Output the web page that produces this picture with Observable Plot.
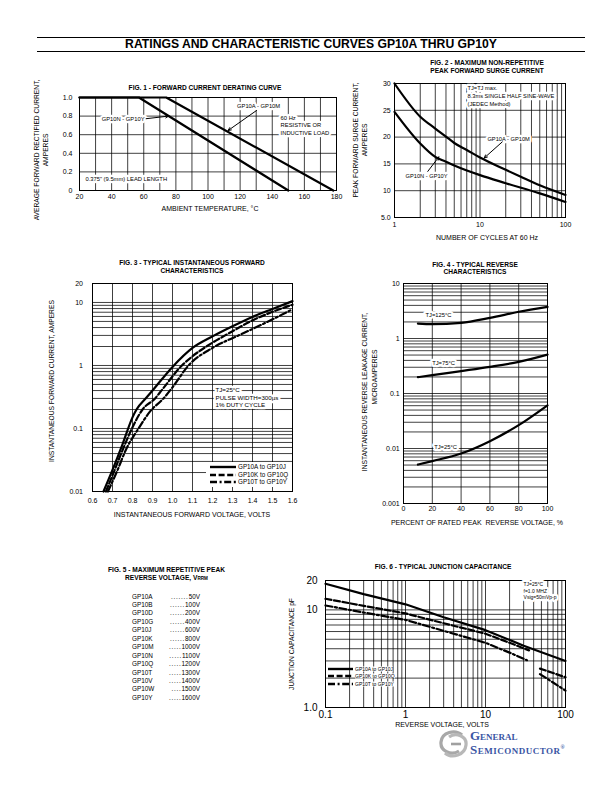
<!DOCTYPE html>
<html><head><meta charset="utf-8">
<script src="https://cdn.jsdelivr.net/npm/d3@7"></script>
<script src="https://cdn.jsdelivr.net/npm/@observablehq/plot@0.6"></script>
<style>
html,body{margin:0;padding:0;background:#fff;}
#page{position:relative;width:612px;height:792px;overflow:hidden;background:#fff;font-family:'Liberation Sans',Arial,Helvetica,sans-serif;color:#000;}
.t{position:absolute;white-space:nowrap;line-height:1;}
</style></head><body><div id="page"></div>
<script>
const FONT = "'Liberation Sans', Arial, Helvetica, sans-serif";

// ================= DATA =================
// Fig.1 Forward current derating
const f1XTicks = [20, 40, 60, 80, 100, 120, 140, 160, 180];
const f1YTicks = [0, 0.2, 0.4, 0.6, 0.8, 1.0];
const f1XGrid = [20, 30, 40, 50, 60, 70, 80, 90, 100, 110, 120, 130, 140, 150, 160, 170, 180];
const f1GP10A_M = [[20, 1.0], [74, 1.0], [178, 0]];
const f1GP10N_Y = [[20, 1.0], [57, 1.0], [150, 0]];
const f1Notes = [
  {x: 131.5, y: 0.914, t: "GP10A - GP10M", a: "middle"},
  {x: 145.2, y: 0.704, t: "60 Hz\nRESISTIVE OR\nINDUCTIVE LOAD", a: "start"},
  {x: 60.5, y: 0.774, t: "GP10N - GP10Y", a: "end"},
  {x: 23.7, y: 0.129, t: "0.375\" (9.5mm) LEAD LENGTH", a: "start"}
];
const f1Arrows = [
  {x1: 130.2, y1: 0.86, x2: 112.5, y2: 0.645},
  {x1: 61.5, y1: 0.772, x2: 75.5, y2: 0.80}
];

// Fig.2 Surge current
const f2XTicks = [1, 10, 100];
const f2YTicks = [5, 10, 15, 20, 25, 30];
const f2XGrid = [1,2,3,4,5,6,7,8,9,10,20,30,40,50,60,70,80,90,100];
const f2CyclesA = [1, 2, 3, 4, 5, 7, 10, 20, 30, 50, 100];
const f2SurgeA  = [30, 23.8, 21.6, 20.1, 18.9, 17.6, 16.2, 13.9, 12.6, 11.0, 9.2];
const f2CyclesN = [1, 2, 3, 4, 5, 10, 20, 50, 100];
const f2SurgeN  = [24.7, 18.8, 16.3, 15.4, 14.7, 12.9, 11.4, 9.5, 7.9];
const f2Notes = [
  {x: 7.14, y: 27.76, t: "TJ=TJ max.\n8.3ms SINGLE HALF SINE-WAVE\n(JEDEC Method)", a: "start"},
  {x: 21.6, y: 19.74, t: "GP10A - GP10M", a: "middle"},
  {x: 2.37, y: 12.74, t: "GP10N - GP10Y", a: "middle"}
];
const f2Arrows = [
  {x1: 18.2, y1: 19.1, x2: 11.2, y2: 16.1},
  {x1: 2.45, y1: 13.6, x2: 3.3, y2: 16.3}
];

// Fig.3 Forward characteristics
const f3XTicks = [0.6, 0.7, 0.8, 0.9, 1.0, 1.1, 1.2, 1.3, 1.4, 1.5, 1.6];
const f3YTicks = [0.01, 0.1, 1, 10, 20];
const f3YGrid = [0.01,0.02,0.03,0.04,0.05,0.06,0.07,0.08,0.09,0.1,0.2,0.3,0.4,0.5,0.6,0.7,0.8,0.9,1,2,3,4,5,6,7,8,9,10,20];
const f3V_AJ = [0.655, 0.70, 0.75, 0.80, 0.82, 0.87, 0.90, 1.0, 1.1, 1.2, 1.3, 1.4, 1.5, 1.6];
const f3I_AJ = [0.01, 0.022, 0.056, 0.15, 0.2, 0.31, 0.40, 0.95, 1.9, 2.9, 4.2, 5.9, 7.9, 10.5];
const f3V_KQ = [0.667, 0.70, 0.75, 0.797, 0.85, 0.913, 0.95, 1.047, 1.1, 1.2, 1.263, 1.3, 1.4, 1.5, 1.6];
const f3I_KQ = [0.01, 0.018, 0.045, 0.1, 0.2, 0.3, 0.42, 1.0, 1.4, 2.3, 3.0, 3.5, 5.2, 7.1, 9.2];
const f3V_TY = [0.677, 0.72, 0.77, 0.83, 0.89, 0.955, 1.0, 1.08, 1.2, 1.33, 1.4, 1.5, 1.6];
const f3I_TY = [0.01, 0.02, 0.048, 0.1, 0.19, 0.3, 0.45, 1.0, 1.9, 3.0, 3.8, 5.4, 7.8];
const f3Notes = [{x: 1.215, y: 0.31, t: "TJ=25°C\nPULSE WIDTH=300µs\n1% DUTY CYCLE", a: "start"}];
const f3Legend = ["GP10A to GP10J", "GP10K to GP10Q", "GP10T to GP10Y"];

// Fig.4 Reverse characteristics
const f4XTicks = [0, 20, 40, 60, 80, 100];
const f4YTicks = [0.001, 0.01, 0.1, 1, 10];
const f4YGrid = [0.001,0.002,0.003,0.004,0.005,0.006,0.007,0.008,0.009,0.01,0.02,0.03,0.04,0.05,0.06,0.07,0.08,0.09,0.1,0.2,0.3,0.4,0.5,0.6,0.7,0.8,0.9,1,2,3,4,5,6,7,8,9,10];
const f4Pct  = [10, 20, 40, 60, 80, 100];
const f4I125 = [1.87, 1.83, 1.93, 2.37, 3.06, 3.77];
const f4I75  = [0.198, 0.216, 0.256, 0.305, 0.376, 0.51];
const f4I25  = [0.0051, 0.0059, 0.0081, 0.0136, 0.0266, 0.061];
const f4Notes = [
  {x: 24.3, y: 2.73, t: "TJ=125°C", a: "middle"},
  {x: 27.8, y: 0.366, t: "TJ=75°C", a: "middle"},
  {x: 29.2, y: 0.0109, t: "TJ=25°C", a: "middle"}
];

// Fig.5 VRRM table
const f5Parts = ["GP10A","GP10B","GP10D","GP10G","GP10J","GP10K","GP10M","GP10N","GP10Q","GP10T","GP10V","GP10W","GP10Y"];
const f5Volts = [50, 100, 200, 400, 600, 800, 1000, 1100, 1200, 1300, 1400, 1500, 1600];
const f5Dots  = [7, 6, 6, 6, 6, 6, 5, 5, 5, 5, 5, 4, 5];

// Fig.6 Junction capacitance
const f6XTicks = [0.1, 1, 10, 100];
const f6YTicks = [1, 10, 20];
const f6XGrid = [0.1,0.2,0.3,0.4,0.5,0.6,0.7,0.8,0.9,1,2,3,4,5,6,7,8,9,10,20,30,40,50,60,70,80,90,100];
const f6YGrid = [1,2,3,4,5,6,7,8,9,10,20];
const f6V_AJ = [0.1, 0.3, 1, 3, 10, 30, 100];
const f6C_AJ = [18.5, 14.5, 11.4, 8.4, 6.2, 4.3, 3.0];
const f6V_KQ = [0.1, 0.3, 1, 3, 10, 20, 35, 40, 48, 100];
const f6C_KQ = [13.0, 11.0, 9.2, 7.3, 5.7, 4.6, 3.85, NaN, 2.5, 2.04];
const f6V_TY = [0.1, 0.3, 1, 3, 10, 20, 33, 40, 48, 100];
const f6C_TY = [11.1, 9.4, 7.9, 6.1, 4.6, 3.65, 3.05, NaN, 2.2, 1.49];
const f6Notes = [{x: 29.9, y: 15.8, t: "TJ=25°C\nf=1.0 MHZ\nVsig=50mVp-p", a: "start"}];
const f6Legend = ["GP10A to GP10J", "GP10K to GP10Q", "GP10T to GP10Y"];

// ================= HELPERS =================
const page = document.getElementById('page');
const DASH = [null, "6,2.6", "7,2.6,2,2.6"];
function label(text, x, y, o = {}) {
  const d = document.createElement('div');
  d.className = 't';
  if (o.html) d.innerHTML = text; else d.textContent = text;
  d.style.left = x + 'px'; d.style.top = y + 'px';
  d.style.fontSize = (o.size ?? 7) + 'px';
  d.style.fontWeight = o.weight ?? 'normal';
  if (o.family) d.style.fontFamily = o.family;
  if (o.color) d.style.color = o.color;
  if (o.ls) d.style.letterSpacing = o.ls + 'px';
  if (o.bg) d.style.background = o.bg;
  if (o.lh) d.style.lineHeight = o.lh;
  if (o.variant) d.style.fontVariant = o.variant;
  const tx = o.anchor === 'start' ? '0' : o.anchor === 'end' ? '-100%' : '-50%';
  d.style.transform = `translate(${tx}, -50%)` + (o.rotate ? ` rotate(${o.rotate}deg)` : '');
  page.appendChild(d);
  return d;
}
function hline(x1, x2, y, w = 1) {
  const d = document.createElement('div');
  d.style.cssText = `position:absolute;left:${x1}px;top:${y - w/2}px;width:${x2 - x1}px;height:${w}px;background:#000;`;
  page.appendChild(d);
}
function pairs(xs, ys) { return xs.map((x, i) => ({x, y: ys[i]})); }
const GRID = {stroke: "#000", strokeWidth: 0.75};
const CURVE = {x: "x", y: "y", stroke: "#000", strokeWidth: 2.2, strokeLinejoin: "round"};
function notesAnchored(data, anchor, size, lh) {
  return Plot.text(data.filter(d => d.a === anchor), {x: "x", y: "y", text: "t", textAnchor: anchor, fontSize: size, lineHeight: lh,
    fill: "#000", stroke: "#fff", strokeWidth: 4.5, strokeLinejoin: "round", paintOrder: "stroke"});
}
function allNotes(data, size, lh) {
  return ["start", "middle", "end"].map(a => notesAnchored(data, a, size, lh));
}
function arrows(data) {
  return Plot.arrow(data, {x1: "x1", y1: "y1", x2: "x2", y2: "y2", stroke: "#000", strokeWidth: 1, headLength: 5, headAngle: 50});
}
function makePlot(fr, opts, fontSize) {
  const m = {marginLeft: 40, marginRight: 24, marginTop: 12, marginBottom: 22};
  const svg = Plot.plot({
    width: (fr.r - fr.l) + m.marginLeft + m.marginRight,
    height: (fr.b - fr.t) + m.marginTop + m.marginBottom,
    ...m, ...opts,
    style: {background: "transparent", fontFamily: FONT, color: "#000", overflow: "visible", fontSize: fontSize + "px"}
  });
  svg.style.position = "absolute";
  svg.style.left = (fr.l - m.marginLeft) + "px";
  svg.style.top = (fr.t - m.marginTop) + "px";
  svg.style.overflow = "visible";
  page.appendChild(svg);
  return svg;
}
function legend(items, lx1, lx2, tx, ys, size, sw) {
  items.forEach((name, i) => {
    const s = document.createElementNS("http://www.w3.org/2000/svg", "svg");
    s.setAttribute("width", lx2 - lx1); s.setAttribute("height", 6);
    s.style.cssText = `position:absolute;left:${lx1}px;top:${ys[i] - 3}px;`;
    const ln = document.createElementNS("http://www.w3.org/2000/svg", "line");
    ln.setAttribute("x1", 0); ln.setAttribute("x2", lx2 - lx1); ln.setAttribute("y1", 3); ln.setAttribute("y2", 3);
    ln.setAttribute("stroke", "#000"); ln.setAttribute("stroke-width", sw);
    if (DASH[i]) ln.setAttribute("stroke-dasharray", DASH[i]);
    s.appendChild(ln); page.appendChild(s);
    label(name, tx, ys[i], {size, anchor: "start", bg: "#fff"});
  });
}

// ================= PAGE TITLE =================
hline(37, 585, 37, 1);
hline(37, 585, 51, 1);
label("RATINGS AND CHARACTERISTIC CURVES GP10A THRU GP10Y", 311, 44, {size: 12.2, weight: "bold"});

// ================= FIG 1 =================
label("FIG. 1 - FORWARD CURRENT DERATING CURVE", 205, 88, {size: 6.6, weight: "bold"});
makePlot({l: 79, t: 97, r: 336, b: 190}, {
  x: {domain: [20, 180], ticks: f1XTicks, tickSize: 0, tickPadding: 3.5, label: null},
  y: {domain: [0, 1], ticks: f1YTicks, tickSize: 0, tickPadding: 7, label: null, tickFormat: d => d === 0 ? "0" : d.toFixed(1)},
  marks: [
    Plot.ruleX(f1XGrid, GRID),
    Plot.ruleY(f1YTicks, GRID),
    Plot.frame({stroke: "#000", strokeWidth: 1}),
    Plot.line(f1GP10A_M.map(([x, y]) => ({x, y})), CURVE),
    Plot.line(f1GP10N_Y.map(([x, y]) => ({x, y})), CURVE),
    ...allNotes(f1Notes, 5.8, 1.3),
    arrows(f1Arrows)
  ]
}, 7);
label("AVERAGE FORWARD RECTIFIED CURRENT,", 37, 150, {size: 6.7, rotate: -90});
label("AMPERES", 46, 150, {size: 6.7, rotate: -90});
label("AMBIENT TEMPERATURE, °C", 210, 208, {size: 7});

// ================= FIG 2 =================
label("FIG. 2 - MAXIMUM NON-REPETITIVE", 487, 62.5, {size: 6.6, weight: "bold"});
label("PEAK FORWARD SURGE CURRENT", 487, 70.5, {size: 6.6, weight: "bold"});
makePlot({l: 394, t: 83, r: 565, b: 217}, {
  x: {type: "log", domain: [1, 100], ticks: f2XTicks, tickSize: 0, tickPadding: 4.5, label: null, tickFormat: d => String(d)},
  y: {domain: [5, 30], ticks: f2YTicks, tickSize: 0, tickPadding: 3.8, label: null, tickFormat: d => d === 5 ? "5.0" : String(d)},
  marks: [
    Plot.ruleX(f2XGrid, GRID),
    Plot.ruleY(f2YTicks, GRID),
    Plot.frame({stroke: "#000", strokeWidth: 1}),
    Plot.line(pairs(f2CyclesA, f2SurgeA), {...CURVE, curve: "monotone-x"}),
    Plot.line(pairs(f2CyclesN, f2SurgeN), {...CURVE, curve: "monotone-x"}),
    ...allNotes(f2Notes, 5.7, 1.35),
    arrows(f2Arrows)
  ]
}, 7);
label("PEAK FORWARD SURGE CURRENT,", 356, 140, {size: 6.7, rotate: -90});
label("AMPERES", 365, 140, {size: 6.7, rotate: -90});
label("NUMBER OF CYCLES AT 60 Hz", 487, 237, {size: 7});

// ================= FIG 3 =================
label("FIG. 3 - TYPICAL INSTANTANEOUS FORWARD", 192, 262.5, {size: 6.6, weight: "bold"});
label("CHARACTERISTICS", 192, 270.5, {size: 6.6, weight: "bold"});
makePlot({l: 92, t: 283, r: 292, b: 491}, {
  x: {domain: [0.6, 1.6], ticks: f3XTicks, tickSize: 0, tickPadding: 7, label: null, tickFormat: d => d.toFixed(1)},
  y: {type: "log", domain: [0.01, 20], ticks: f3YTicks, tickSize: 0, tickPadding: 9.5, label: null, tickFormat: d => String(d)},
  marks: [
    Plot.ruleX(f3XTicks, GRID),
    Plot.ruleY(f3YGrid, GRID),
    Plot.frame({stroke: "#000", strokeWidth: 1}),
    Plot.line(pairs(f3V_AJ, f3I_AJ), {...CURVE, curve: "monotone-x"}),
    Plot.line(pairs(f3V_KQ, f3I_KQ), {...CURVE, curve: "monotone-x", strokeDasharray: DASH[1]}),
    Plot.line(pairs(f3V_TY, f3I_TY), {...CURVE, curve: "monotone-x", strokeDasharray: DASH[2]}),
    ...allNotes(f3Notes, 6.2, 1.2)
  ]
}, 7);
{
  const bg = document.createElement('div');
  bg.style.cssText = "position:absolute;left:206px;top:462px;width:85.5px;height:25px;background:#fff;";
  page.appendChild(bg);
}
legend(f3Legend, 210, 236, 238, [467, 474.5, 482], 6.3, 2.4);
label("INSTANTANEOUS FORWARD CURRENT, AMPERES", 52, 381, {size: 6.7, rotate: -90});
label("INSTANTANEOUS FORWARD VOLTAGE, VOLTS", 192, 513.5, {size: 7});

// ================= FIG 4 =================
label("FIG. 4 - TYPICAL REVERSE", 475, 264.5, {size: 6.6, weight: "bold"});
label("CHARACTERISTICS", 475, 271.5, {size: 6.6, weight: "bold"});
makePlot({l: 403, t: 283, r: 547, b: 503}, {
  x: {domain: [0, 100], ticks: f4XTicks, tickSize: 0, tickPadding: 2.5, label: null},
  y: {type: "log", domain: [0.001, 10], ticks: f4YTicks, tickSize: 0, tickPadding: 3.8, label: null, tickFormat: d => String(d)},
  marks: [
    Plot.ruleX(f4XTicks, GRID),
    Plot.ruleY(f4YGrid, GRID),
    Plot.frame({stroke: "#000", strokeWidth: 1}),
    Plot.line(pairs(f4Pct, f4I125), {...CURVE, curve: "monotone-x"}),
    Plot.line(pairs(f4Pct, f4I75), {...CURVE, curve: "monotone-x"}),
    Plot.line(pairs(f4Pct, f4I25), {...CURVE, curve: "monotone-x"}),
    ...allNotes(f4Notes, 5.8, 1.2)
  ]
}, 7);
label("INSTANTANEOUS REVERSE LEAKAGE CURRENT,", 365, 392, {size: 6.7, rotate: -90});
label("MICROAMPERES", 375, 377, {size: 6.7, rotate: -90});
label("PERCENT OF RATED PEAK&nbsp; REVERSE VOLTAGE, %", 477, 521.5, {size: 7, html: true});

// ================= FIG 5 =================
label("FIG. 5 - MAXIMUM REPETITIVE PEAK", 166.5, 570, {size: 6.6, weight: "bold"});
label("REVERSE VOLTAGE, V<span style='font-size:4.6px'>RRM</span>", 166.5, 578, {size: 6.6, weight: "bold", html: true});
f5Parts.forEach((p, i) => {
  const y = 596.5 + i * 8.45;
  label(p, 132, y, {size: 6.4, anchor: "start"});
  label("<span style='letter-spacing:0.75px'>" + ".".repeat(f5Dots[i]) + "</span>" + f5Volts[i] + "V", 200, y, {size: 6.4, anchor: "end", html: true});
});

// ================= FIG 6 =================
label("FIG. 6 - TYPICAL JUNCTION CAPACITANCE", 443, 567, {size: 6.6, weight: "bold"});
makePlot({l: 325, t: 580, r: 565, b: 707}, {
  x: {type: "log", domain: [0.1, 100], ticks: f6XTicks, tickSize: 0, tickPadding: 3, label: null, tickFormat: d => String(d)},
  y: {type: "log", domain: [1, 20], ticks: f6YTicks, tickSize: 0, tickPadding: 8, label: null, tickFormat: d => d === 1 ? "1.0" : String(d)},
  marks: [
    Plot.ruleX(f6XGrid, GRID),
    Plot.ruleY(f6YGrid, GRID),
    Plot.frame({stroke: "#000", strokeWidth: 1}),
    Plot.line(pairs(f6V_AJ, f6C_AJ), {...CURVE}),
    Plot.line(pairs(f6V_KQ, f6C_KQ), {...CURVE, strokeDasharray: DASH[1]}),
    Plot.line(pairs(f6V_TY, f6C_TY), {...CURVE, strokeDasharray: DASH[2]}),
    ...allNotes(f6Notes, 5, 1.35)
  ]
}, 10);
legend(f6Legend, 328, 353, 355, [669.3, 676.3, 683.5], 5, 2.4);
label("JUNCTION CAPACITANCE pF", 292, 644, {size: 6.7, rotate: -90});
label("REVERSE VOLTAGE, VOLTS", 442, 724, {size: 7});

// ================= LOGO =================
{
  const s = document.createElement('div');
  s.style.cssText = "position:absolute;left:437px;top:730px;width:32px;height:28px;";
  s.innerHTML = `<svg width="32" height="28" viewBox="0 0 32 28">
    <path d="M25 5 C18 -1, 5 2, 4 12 C3 21, 14 26, 22 21" fill="none" stroke="#a8a8a8" stroke-width="3.2"/>
    <path d="M8 23 C15 29, 28 25, 29 15 C30 6, 19 2, 12 7" fill="none" stroke="#b8b8b8" stroke-width="3.2"/>
    <path d="M14 14 L24 14" stroke="#a0a0a0" stroke-width="2.6"/></svg>`;
  page.appendChild(s);
}
const SERIF = "'Liberation Serif', 'Times New Roman', serif";
label("General", 470, 736, {size: 13, weight: "bold", anchor: "start", family: SERIF, color: "#3a55a4", variant: "small-caps", lh: 0.9});
label("Semiconductor<sup style='font-size:5.5px;line-height:0'>®</sup>", 470, 750, {size: 13, weight: "bold", anchor: "start", family: SERIF, color: "#3a55a4", html: true, variant: "small-caps", lh: 0.9, ls: 0.5});
</script></body></html>
